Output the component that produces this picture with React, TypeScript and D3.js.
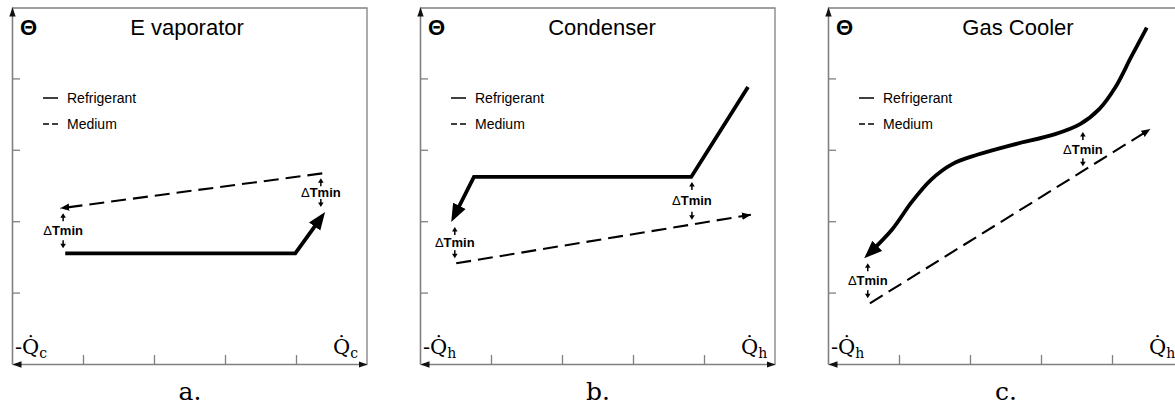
import React, { useEffect, useRef } from "react";
import * as d3 from "d3";

type Pt = [number, number];

// ---------- data ----------
const panelLetters = ["a.", "b.", "c."];
const panelTitles = ["E vaporator", "Condenser", "Gas Cooler"];
const heatSubscripts = ["c", "h", "h"];
const xTickValues = [1, 2, 3, 4];
const yTickValues = [1, 2, 3, 4];
const legendLabels = ["Refrigerant", "Medium"];
const deltaSymbol = "Δ";
const deltaText = "Tmin";

const evaporatorRefrigerant: Pt[] = [[0.75, 1.55], [3.99, 1.55], [4.41, 2.13]];
const evaporatorMedium: Pt[] = [[4.37, 2.67], [0.68, 2.18]];
const evaporatorDeltaT: [number, number, number][] = [[0.72, 2.18, 1.55], [4.35, 2.67, 2.13]];

const condenserRefrigerant: Pt[] = [[4.62, 3.88], [3.82, 2.62], [0.76, 2.62], [0.44, 1.99]];
const condenserMedium: Pt[] = [[0.51, 1.41], [4.66, 2.09]];
const condenserDeltaT: [number, number, number][] = [[0.49, 1.99, 1.41], [3.83, 2.62, 1.95]];

const gasCoolerRefrigerant: Pt[] = [
  [4.49, 4.71], [4.27, 4.3], [4.05, 3.88], [3.82, 3.57], [3.55, 3.36], [3.2, 3.22],
  [2.6, 3.07], [2.1, 2.93], [1.75, 2.8], [1.45, 2.58], [1.18, 2.27], [0.9, 1.88], [0.51, 1.48],
];
const gasCoolerMedium: Pt[] = [[0.59, 0.85], [4.54, 3.29]];
const gasCoolerDeltaT: [number, number, number][] = [[0.56, 1.48, 0.85], [3.59, 3.32, 2.7]];

const refrigerantSeries = [evaporatorRefrigerant, condenserRefrigerant, gasCoolerRefrigerant];
const mediumSeries = [evaporatorMedium, condenserMedium, gasCoolerMedium];
const deltaSeries = [evaporatorDeltaT, condenserDeltaT, gasCoolerDeltaT];

// ---------- layout ----------
const W = 1175;
const H = 405;
const panelLeft = [12, 420, 828];
const panelWidth = 355;
const plotTop = 7;
const plotBottom = 364;
const titleOffset = [175, 182, 190];
const AXIS = "#808080";
const SANS = "'Liberation Sans', Arial, sans-serif";
const SERIF = "'DejaVu Serif', serif";

export default function App() {
  const ref = useRef<SVGSVGElement | null>(null);

  useEffect(() => {
    const svg = d3.select(ref.current);
    svg.selectAll("*").remove();

    const defs = svg.append("defs");
    defs.append("marker")
      .attr("id", "bigArrow").attr("markerUnits", "userSpaceOnUse")
      .attr("viewBox", "0 0 19 15").attr("markerWidth", 19).attr("markerHeight", 15)
      .attr("refX", 18).attr("refY", 7.5).attr("orient", "auto")
      .append("path").attr("d", "M0,0.5 L18,7.5 L0,14.5 Z").attr("fill", "#000");
    defs.append("marker")
      .attr("id", "smallArrow").attr("markerUnits", "userSpaceOnUse")
      .attr("viewBox", "0 0 10 9").attr("markerWidth", 10).attr("markerHeight", 9)
      .attr("refX", 9).attr("refY", 4.5).attr("orient", "auto")
      .append("path").attr("d", "M0,0.8 L9,4.5 L0,8.2 Z").attr("fill", "#000");
    defs.append("marker")
      .attr("id", "axisArrow").attr("markerUnits", "userSpaceOnUse")
      .attr("viewBox", "0 0 10 8").attr("markerWidth", 10).attr("markerHeight", 8)
      .attr("refX", 9).attr("refY", 4).attr("orient", "auto-start-reverse")
      .append("path").attr("d", "M0,0.8 L9,4 L0,7.2 Z").attr("fill", "#111");

    panelLeft.forEach((x0, i) => {
      const x = d3.scaleLinear().domain([0, 5]).range([x0, x0 + panelWidth]);
      const y = d3.scaleLinear().domain([0, 5]).range([plotBottom, plotTop]);
      const g = svg.append("g");

      // frame (top and right)
      g.append("path")
        .attr("d", `M${x(0)},${y(5) + 1}H${x(5)}V${y(0)}`)
        .attr("fill", "none").attr("stroke", AXIS).attr("stroke-width", 1.3);

      // axes
      const xAxis = g.append("g").attr("transform", `translate(0,${y(0)})`)
        .call(d3.axisBottom(x).tickValues(xTickValues).tickSize(-9).tickSizeOuter(0).tickFormat(() => ""));
      const yAxis = g.append("g").attr("transform", `translate(${x(0)},0)`)
        .call(d3.axisLeft(y).tickValues(yTickValues).tickSize(-8).tickSizeOuter(0).tickFormat(() => ""));
      [xAxis, yAxis].forEach((a) => {
        a.selectAll("line").attr("stroke", AXIS).attr("stroke-width", 1.3);
        a.select(".domain").attr("stroke", AXIS).attr("stroke-width", 1.6);
      });
      xAxis.select(".domain").attr("marker-start", "url(#axisArrow)").attr("marker-end", "url(#axisArrow)");
      yAxis.select(".domain").attr("marker-end", "url(#axisArrow)");

      // title and theta
      g.append("text").attr("x", x0 + 8).attr("y", 35)
        .attr("font-family", SANS).attr("font-weight", "bold").attr("font-size", 22).text("Θ");
      g.append("text").attr("x", x0 + titleOffset[i]).attr("y", 35).attr("text-anchor", "middle")
        .attr("font-family", SANS).attr("font-size", 22).text(panelTitles[i]);

      // legend
      legendLabels.forEach((lab, k) => {
        const ly = 98 + k * 26;
        g.append("line").attr("x1", x0 + 31).attr("x2", x0 + 46).attr("y1", ly).attr("y2", ly)
          .attr("stroke", "#000").attr("stroke-width", 1.5)
          .attr("stroke-dasharray", k === 1 ? "6,3" : null);
        g.append("text").attr("x", x0 + 55).attr("y", ly + 5)
          .attr("font-family", SANS).attr("font-size", 14).text(lab);
      });

      // medium (dashed)
      const lin = d3.line<Pt>().x((d) => x(d[0])).y((d) => y(d[1]));
      g.append("path").attr("d", lin(mediumSeries[i]))
        .attr("fill", "none").attr("stroke", "#000").attr("stroke-width", 2.1)
        .attr("stroke-dasharray", "15,7").attr("marker-end", "url(#smallArrow)");

      // refrigerant (solid)
      const refLine = d3.line<Pt>().x((d) => x(d[0])).y((d) => y(d[1]))
        .curve(i === 2 ? d3.curveCatmullRom.alpha(0.5) : d3.curveLinear);
      const rp = g.append("path").attr("d", refLine(refrigerantSeries[i]))
        .attr("fill", "none").attr("stroke", "#000").attr("stroke-width", 3.8)
        .attr("stroke-linejoin", "miter").attr("marker-end", "url(#bigArrow)");
      const node = rp.node() as SVGPathElement;
      const len = node.getTotalLength();
      rp.attr("stroke-dasharray", `${len - 10},${len + 20}`);

      // delta T min annotations
      deltaSeries[i].forEach(([dx, yu, yl]) => {
        const px = x(dx);
        const top = y(yu);
        const bot = y(yl);
        const mid = (top + bot) / 2;
        const t = g.append("text").attr("x", px).attr("y", mid + 4.5).attr("text-anchor", "middle")
          .attr("font-family", SANS).attr("font-size", 13);
        t.append("tspan").text(deltaSymbol);
        t.append("tspan").attr("font-weight", "bold").text(deltaText);
        // up arrow
        g.append("line").attr("x1", px).attr("x2", px).attr("y1", top + 13).attr("y2", top + 8)
          .attr("stroke", "#000").attr("stroke-width", 1.5);
        g.append("path").attr("d", `M${px},${top + 5}L${px - 2.8},${top + 9.5}L${px + 2.8},${top + 9.5}Z`).attr("fill", "#000");
        // down arrow
        g.append("line").attr("x1", px).attr("x2", px).attr("y1", bot - 13).attr("y2", bot - 8)
          .attr("stroke", "#000").attr("stroke-width", 1.5);
        g.append("path").attr("d", `M${px},${bot - 5}L${px - 2.8},${bot - 9.5}L${px + 2.8},${bot - 9.5}Z`).attr("fill", "#000");
      });

      // heat flow labels
      const lt = g.append("text").attr("x", x0 + 3).attr("y", 354)
        .attr("font-family", SERIF).attr("font-size", 21);
      lt.append("tspan").text("-Q\u0307");
      lt.append("tspan").attr("font-size", 14).attr("dy", 4).text(heatSubscripts[i]);
      const rt = g.append("text").attr("x", x0 + 321).attr("y", 354)
        .attr("font-family", SERIF).attr("font-size", 21);
      rt.append("tspan").text("Q\u0307");
      rt.append("tspan").attr("font-size", 14).attr("dy", 4).text(heatSubscripts[i]);

      // panel letter
      g.append("text").attr("x", x0 + 178).attr("y", 400).attr("text-anchor", "middle")
        .attr("font-family", SERIF).attr("font-size", 25).text(panelLetters[i]);
    });
  }, []);

  return (
    <svg
      ref={ref}
      width={W}
      height={H}
      viewBox={`0 0 ${W} ${H}`}
      style={{ position: "absolute", left: 0, top: 0, background: "#fff" }}
    />
  );
}
